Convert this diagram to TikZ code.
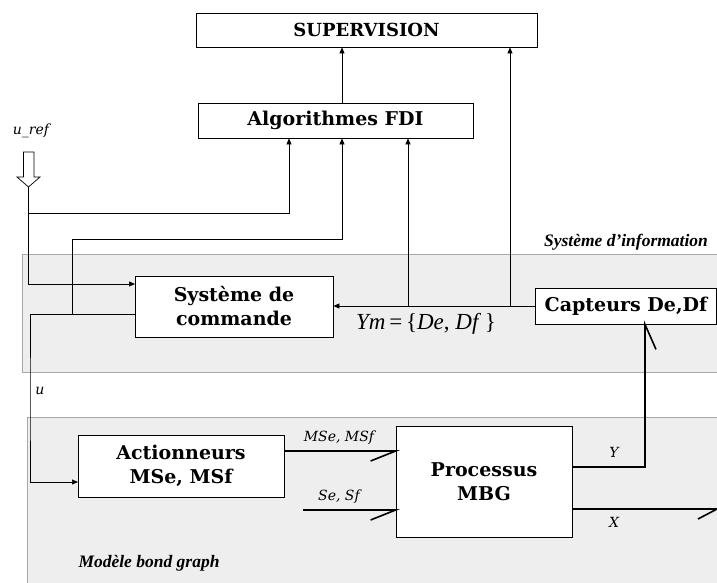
\documentclass[tikz,border=0pt]{standalone}
\usepackage{fontspec}
\setmainfont{Liberation Serif}
\newfontfamily\boxfont{DejaVu Serif}
\usetikzlibrary{arrows.meta}
\definecolor{bandfill}{HTML}{EEEEEE}
\definecolor{bandline}{HTML}{A8A8A8}
\begin{document}
\begin{tikzpicture}[x=1pt,y=-1pt,
  box/.style={draw=black, fill=white, line width=0.8pt, align=center, inner sep=0pt,
    font=\boxfont\bfseries\fontsize{19}{24}\selectfont},
  arr/.style={line width=0.7pt, -{Triangle[length=6pt,width=5pt]}},
  plain/.style={line width=0.7pt},
  bond/.style={line width=1.6pt},
  lbl/.style={font=\boxfont\itshape\fontsize{14}{16}\selectfont, inner sep=0pt},
  bandlbl/.style={font=\bfseries\itshape\fontsize{17.5}{20}\selectfont, inner sep=0pt},
  band/.style={fill=bandfill, draw=bandline, line width=0.8pt}]
\useasboundingbox (0,0) rectangle (717,582);
% bands
\path[band] (22,254) rectangle (722,372);
\path[band] (27,417) rectangle (722,590);
\node[bandlbl] (lsi) at (626,242) {Système d’information};
\node[bandlbl] (lmbg) at (149,563) {Modèle bond graph};
% boxes
\node[box, minimum width=341pt, minimum height=34pt, font=\boxfont\bfseries\fontsize{18}{22}\selectfont] (sup) at (366.5,30) {SUPERVISION};
\node[box, minimum width=275pt, minimum height=35pt] (fdi) at (335.5,120.5) {Algorithmes FDI};
\node[box, minimum width=198pt, minimum height=61pt] (cmd) at (234,306.5) {Système de\\commande};
\node[box, minimum width=181pt, minimum height=36pt] (cap) at (626,306) {Capteurs De,Df};
\node[box, minimum width=206pt, minimum height=62pt] (act) at (181,466) {Actionneurs\\MSe, MSf};
\node[box, minimum width=176pt, minimum height=111pt] (proc) at (484,481.5) {Processus\\MBG};
% x reference coordinates
\coordinate (x289) at (289,0);
\coordinate (x342) at (342,0);
\coordinate (x408) at (408,0);
\coordinate (x510) at (510,0);
\coordinate (x645) at (645,0);
% u_ref hollow arrow
\draw[line width=0.7pt, fill=white] (23.5,152) -- (34,152) -- (34,177) -- (40,177) -- (28.5,187) -- (17,177) -- (23.5,177) -- cycle;
\node[lbl] (luref) at (31,131) {u\_ref};
\coordinate (uref) at (28.5,187);
\coordinate (j1) at (28.5,213);
\coordinate (cin) at (135,284);
\draw[arr] (uref) |- (cin);
\draw[arr] (j1) -| (x289 |- fdi.south);
% u output
\coordinate (cout) at (135,314);
\coordinate (ua) at (30,400);
\coordinate (ain) at (78,482);
\draw[arr] (cout) -| (ua) |- (ain);
\coordinate (j2) at (72,314);
\coordinate (j2t) at (72,239);
\draw[arr] (j2) -- (j2t) -| (x342 |- fdi.south);
\node[lbl] (lu) at (40,391) {u};
% FDI -> supervision
\draw[arr] (x342 |- fdi.north) -- (x342 |- sup.south);
% Ym
\draw[arr] (cap.west) -- (cap.west -| cmd.east);
\draw[arr] (x408 |- cap.west) -- (x408 |- fdi.south);
\draw[arr] (x510 |- cap.west) -- (x510 |- sup.south);
\node[inner sep=0pt, font=\fontsize{23}{26}\selectfont] (lym) at (426,324) {\textit{Ym}\,=\,\{\textit{De}, \textit{Df}\,\}};
% bonds
\coordinate (b1) at (284,451);
\draw[bond] (b1) -- (b1 -| proc.west) -- ++(-25,10);
\node[lbl] (lmse) at (339,438) {MSe, MSf};
\coordinate (b2) at (303,510);
\draw[bond] (b2) -- (b2 -| proc.west) -- ++(-25,10);
\node[lbl] (lse) at (339,497) {Se, Sf};
\coordinate (b3) at (572,467);
\draw[bond] (b3) -| (x645 |- cap.south) -- ++(11,25);
\node[lbl] (ly) at (614,452) {Y};
\coordinate (b4) at (572,509);
\coordinate (b4e) at (717,509);
\draw[bond] (b4) -- (b4e) -- ++(-19,10);
\node[lbl] (lx) at (614,522) {X};
\end{tikzpicture}
\end{document}
